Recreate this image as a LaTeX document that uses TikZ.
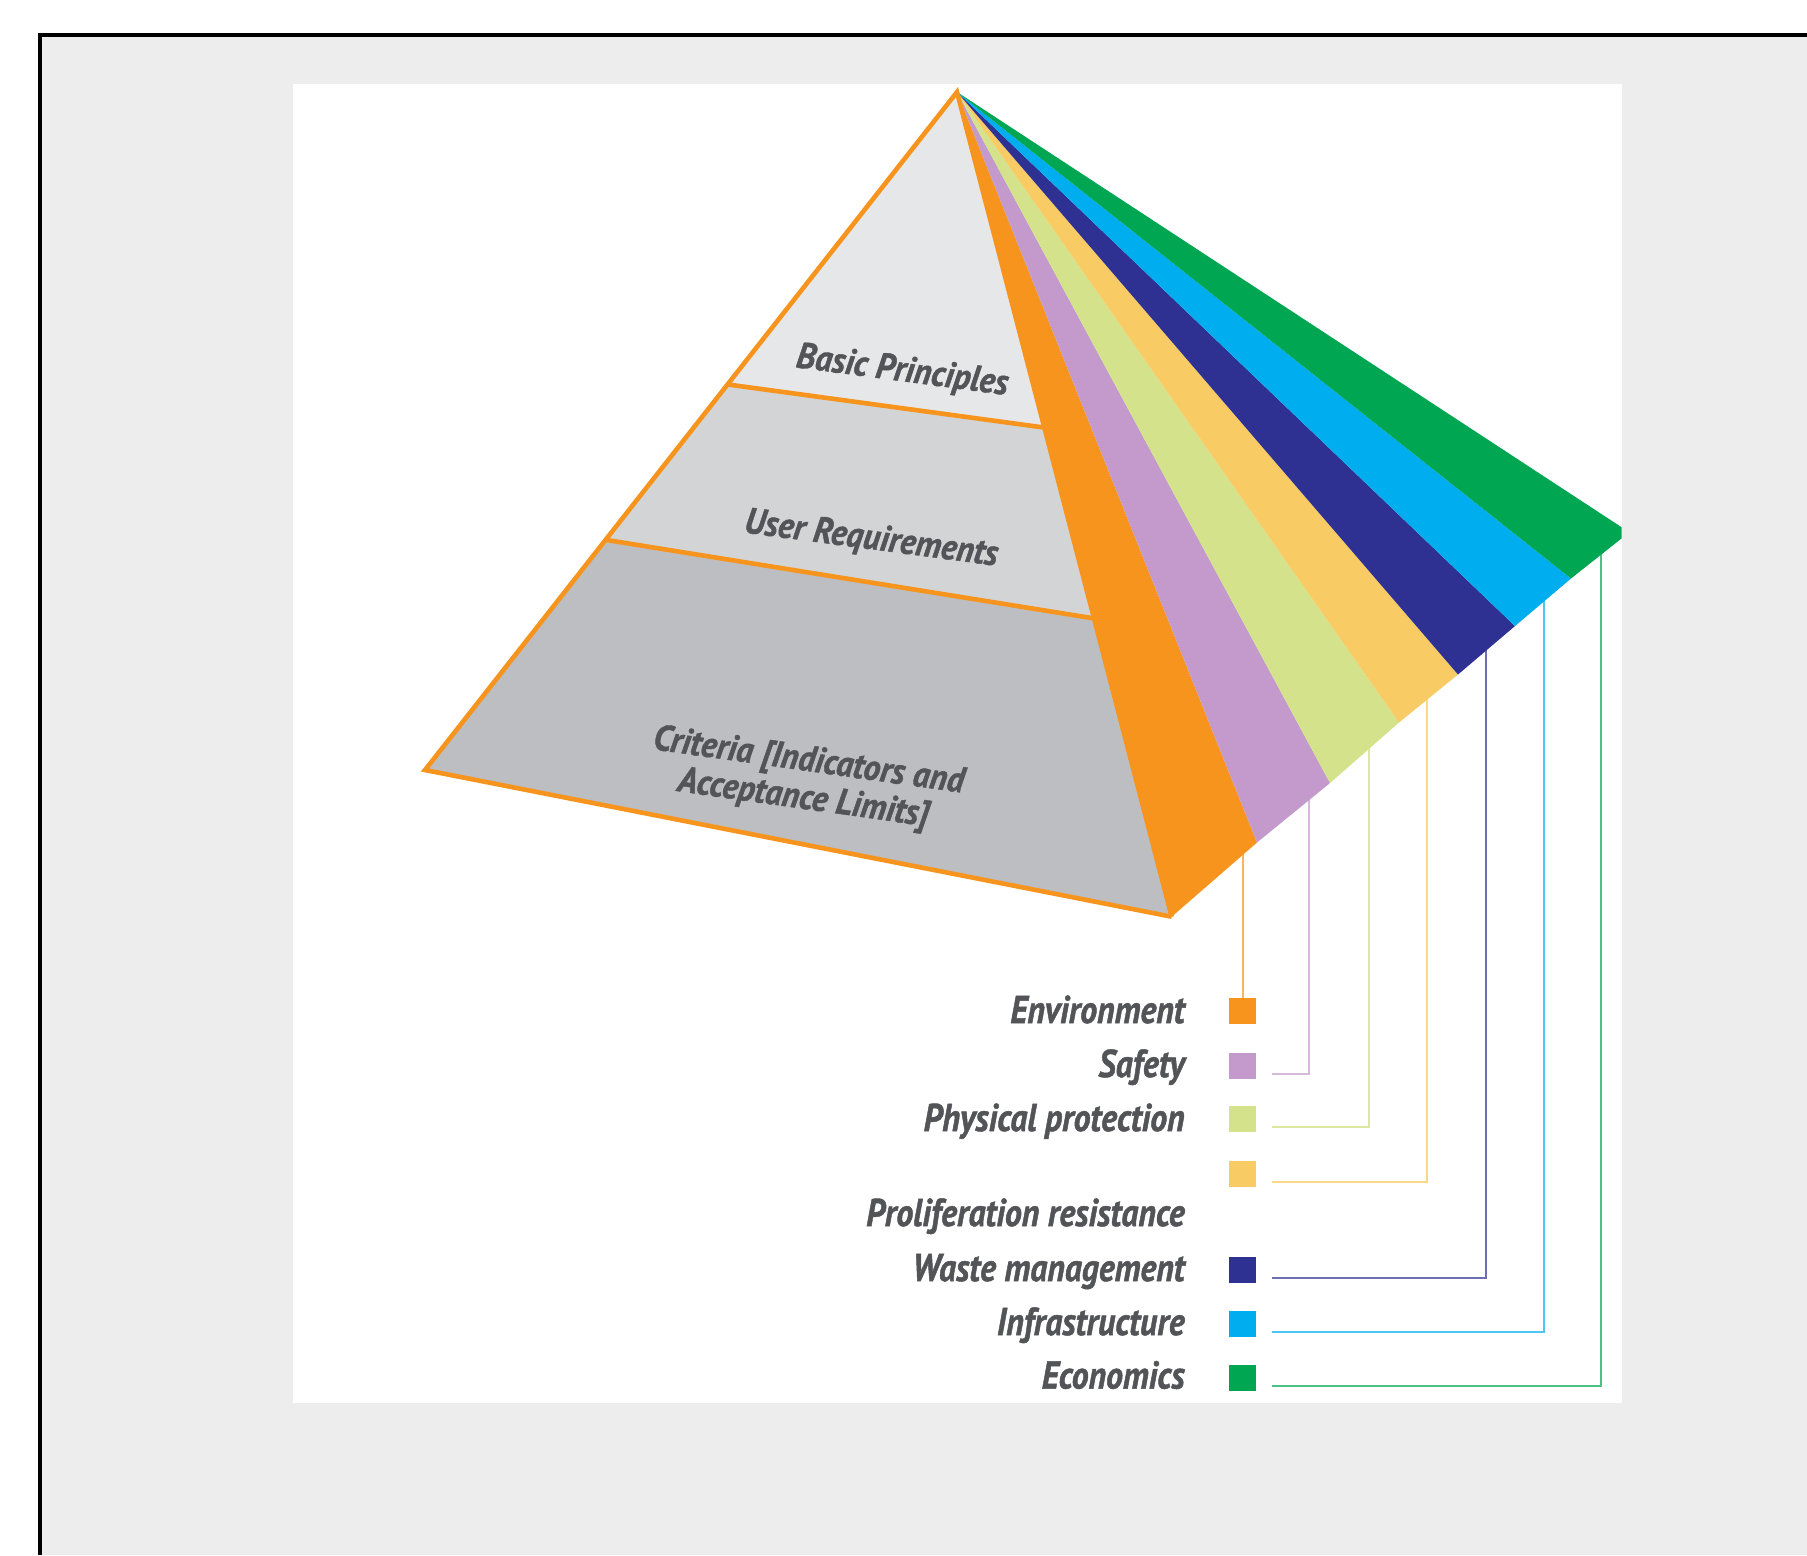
\documentclass[tikz,border=0pt]{standalone}
\usepackage{fontspec}
\newfontfamily\legendfont[FakeStretch=0.87,FakeBold=1.2]{PT Sans}
\newfontfamily\tierfont[FakeStretch=0.92,FakeBold=1.2]{PT Sans}
\usetikzlibrary{calc}

\definecolor{pageGray}{HTML}{EDEDED}
\definecolor{textGray}{HTML}{535457}
\definecolor{tierTop}{HTML}{E6E7E9}
\definecolor{tierMid}{HTML}{D3D4D6}
\definecolor{tierLow}{HTML}{BDBEC1}
\definecolor{cOrange}{HTML}{F7941D}
\definecolor{cLilac}{HTML}{C49ACC}
\definecolor{cLime}{HTML}{D3E28B}
\definecolor{cYellow}{HTML}{F8CB65}
\definecolor{cNavy}{HTML}{2E3192}
\definecolor{cCyan}{HTML}{00AEEF}
\definecolor{cGreen}{HTML}{00A651}

\tikzset{
  edge/.style={draw=cOrange, line width=2.3pt},
  tierlabel/.style={text=textGray, inner sep=0pt,
    font=\tierfont\bfseries\itshape\fontsize{18.2}{19}\selectfont},
  legendlabel/.style={text=textGray, inner sep=0pt, anchor=base east,
    font=\legendfont\bfseries\itshape\fontsize{19.4}{21}\selectfont},
  swatch/.style={rectangle, inner sep=0pt, minimum width=13.5pt, minimum height=13pt},
  link/.style={line width=1pt}
}

\begin{document}
\begin{tikzpicture}[x=0.5pt,y=-0.5pt]
\useasboundingbox (0,0) rectangle (1807,1555);

% page, frame and white panel
\fill[white] (0,0) rectangle (1807,1555);
\fill[pageGray] (40,35) rectangle (1807,1555);
\draw[black, line width=2pt] (40,1555) -- (40,35) -- (1807,35);
\fill[white] (292.5,84) rectangle (1621.7,1402.7);

% pyramid geometry
\coordinate (A)  at (957,92);
\coordinate (BL) at (425,770);
\coordinate (P0) at (1171.7,916.7);
\coordinate (P1) at (1257,842.5);
\coordinate (P2) at (1330,783);
\coordinate (P3) at (1399,722.5);
\coordinate (P4) at (1458,674.5);
\coordinate (P5) at (1515,626);
\coordinate (P6) at (1571,578.5);
\coordinate (P7) at (1621.7,538.3);
\coordinate (P8) at (1621.7,527.3);
\coordinate (L1) at ($(A)!0.4313!(BL)$);
\coordinate (R1) at ($(A)!0.4069!(P0)$);
\coordinate (L2) at ($(A)!0.6605!(BL)$);
\coordinate (R2) at ($(A)!0.6383!(P0)$);

% legend swatches
\node[swatch, fill=cOrange] (s1) at (1242.6,1011) {};
\node[swatch, fill=cLilac]  (s2) at (1242.6,1065.5) {};
\node[swatch, fill=cLime]   (s3) at (1242.6,1119) {};
\node[swatch, fill=cYellow] (s4) at (1242.6,1173.5) {};
\node[swatch, fill=cNavy]   (s5) at (1242.6,1270) {};
\node[swatch, fill=cCyan]   (s6) at (1242.6,1324) {};
\node[swatch, fill=cGreen]  (s7) at (1242.6,1377.5) {};

% upper ends of the leader lines (hidden under the fan)
\coordinate (t1) at (1242.6,852);
\coordinate (t2) at (1309,796);
\coordinate (t3) at (1369,746);
\coordinate (t4) at (1427,697);
\coordinate (t5) at (1485.5,648);
\coordinate (t6) at (1544,598);
\coordinate (t7) at (1601,551);

% leader lines
\draw[link, cOrange!70] (t1) -- (s1.north);
\draw[link, cLilac!70]  ([xshift=7.75pt,yshift=-4pt]s2.east) -| (t2);
\draw[link, cLime!80]   ([xshift=7.75pt,yshift=-4pt]s3.east) -| (t3);
\draw[link, cYellow!75] ([xshift=7.75pt,yshift=-4pt]s4.east) -| (t4);
\draw[link, cNavy!70]   ([xshift=7.75pt,yshift=-4pt]s5.east) -| (t5);
\draw[link, cCyan!70]   ([xshift=7.75pt,yshift=-4pt]s6.east) -| (t6);
\draw[link, cGreen!70]  ([xshift=7.75pt,yshift=-4pt]s7.east) -| (t7);

% front face tiers
\fill[tierTop] (A) -- (L1) -- (R1) -- cycle;
\fill[tierMid] (L1) -- (L2) -- (R2) -- (R1) -- cycle;
\fill[tierLow] (L2) -- (BL) -- (P0) -- (R2) -- cycle;

% side fan
\fill[cOrange] (A) -- (P0) -- (P1) -- cycle;
\fill[cLilac]  (A) -- (P1) -- (P2) -- cycle;
\fill[cLime]   (A) -- (P2) -- (P3) -- cycle;
\fill[cYellow] (A) -- (P3) -- (P4) -- cycle;
\fill[cNavy]   (A) -- (P4) -- (P5) -- cycle;
\fill[cCyan]   (A) -- (P5) -- (P6) -- cycle;
\fill[cGreen]  (A) -- (P6) -- (P7) -- (P8) -- cycle;

% outline of the front face and tier separators
\draw[edge] (P0) -- (BL) -- (A) -- (P0);
\draw[edge] (L1) -- (R1);
\draw[edge] (L2) -- (R2);

% tier labels
\node[tierlabel, rotate=-7.5, anchor=base] (bp) at (901,381) {Basic Principles};
\node[tierlabel, rotate=-7.5, anchor=base] (ur) at (870,549) {User Requirements};
\node[tierlabel, rotate=-8, align=center] (cr) at (806,781)
  {Criteria [Indicators and\\Acceptance Limits]};

% legend labels
\node[legendlabel] (n1) at (1185,1023)   {Environment};
\node[legendlabel] (n2) at (1185,1077)   {Safety};
\node[legendlabel] (n3) at (1185,1131)   {Physical protection};
\node[legendlabel] (n4) at (1185,1226)   {Proliferation resistance};
\node[legendlabel] (n5) at (1185,1281)   {Waste management};
\node[legendlabel] (n6) at (1185,1335)   {Infrastructure};
\node[legendlabel] (n7) at (1185,1388.5) {Economics};
\end{tikzpicture}
\end{document}
